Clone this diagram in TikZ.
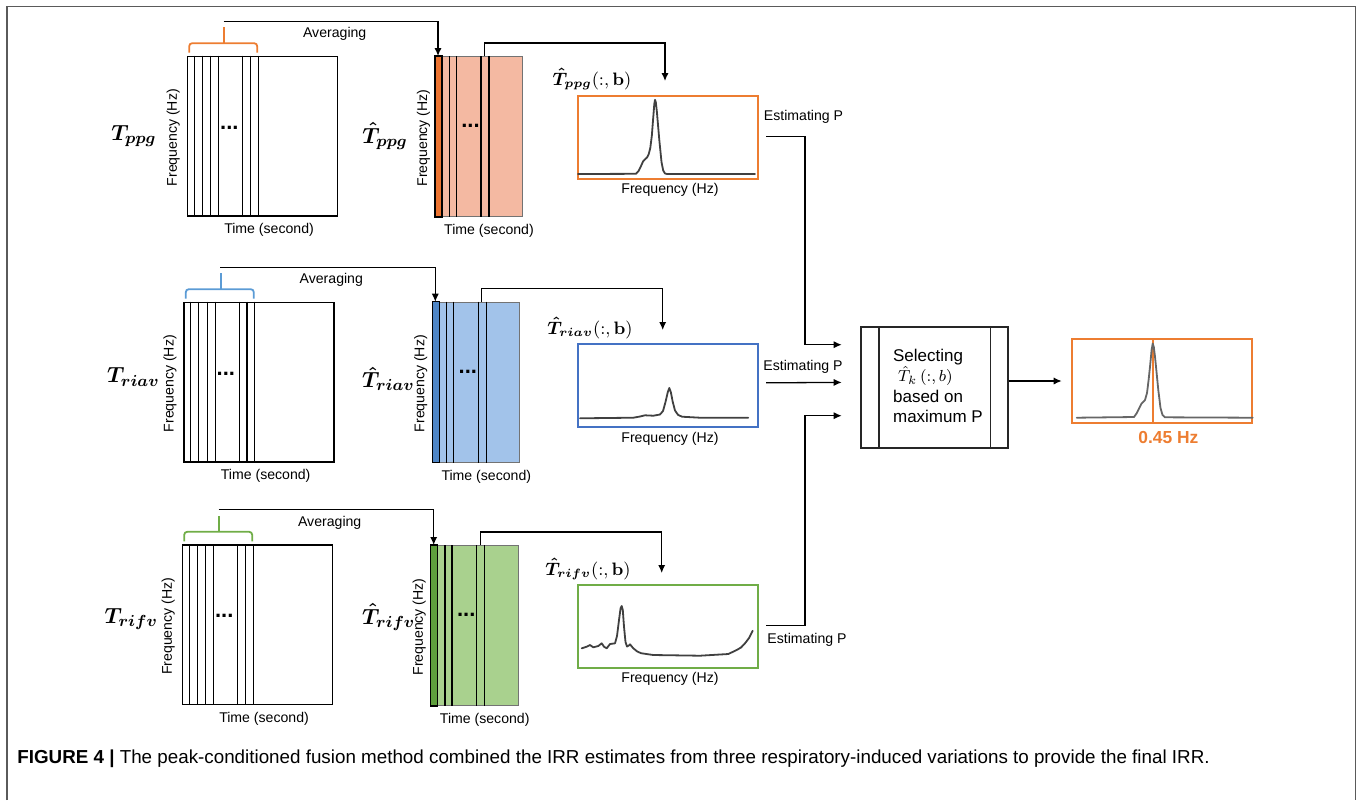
\documentclass[tikz,border=0pt]{standalone}
\usepackage{amsmath}
\usepackage[no-math]{fontspec}
\setmainfont{Liberation Sans}
\usetikzlibrary{arrows.meta,calc}
\definecolor{ppgA}{HTML}{ED7D31}
\definecolor{ppgL}{HTML}{F4B9A2}
\definecolor{ppgD}{HTML}{EB7330}
\definecolor{riaA}{HTML}{5B9BD5}
\definecolor{riaB}{HTML}{4472C4}
\definecolor{riaL}{HTML}{A2C3EA}
\definecolor{riaD}{HTML}{4F86C6}
\definecolor{rifA}{HTML}{70AD47}
\definecolor{rifL}{HTML}{A9D18E}
\definecolor{rifD}{HTML}{5E9E3C}
\definecolor{framec}{HTML}{5A5A5A}
\definecolor{curvec}{HTML}{404040}

\newcommand\mkrow[8]{%
 \node[matbox] (m#1) at (#2,#3) {};
 \foreach \dd in {7.5,15.5,23.8,32,55.8,63.7,71.5}
   \draw[vln] ($(m#1.north west)+(\dd,0)$) -- ($(m#1.south west)+(\dd,0)$);
 \node[hatbox,fill=#6] (h#1) at (#4,#5) {};
 \draw[fill=#7,line width=0.6pt] (h#1.north west) rectangle ($(h#1.south west)+(7,0)$);
 \foreach \dd in {14.2,21.3,46,54}
   \draw[vln] ($(h#1.north west)+(\dd,0)$) -- ($(h#1.south west)+(\dd,0)$);
 \node[dots] (md#1) at ($(m#1.north west)+(42.6,72)$) {...};
 \node[dots] (hd#1) at ($(h#1.north west)+(35.5,70)$) {...};
 \draw[brace,#8] ($(m#1.north west)+(2.5,-3)$) -- ($(m#1.north west)+(2.5,-12.5)$) -- ($(m#1.north west)+(70.5,-12.5)$) -- ($(m#1.north west)+(70.5,-3)$);
 \draw[brace,#8] ($(m#1.north west)+(37.5,-12.5)$) -- ($(m#1.north west)+(37.5,-28.5)$);
 \coordinate (a#1) at ($(m#1.north west)+(37,-34.5)$);
 \draw[arr] (a#1) -| ($(h#1.north west)+(3,0)$);
 \node[lab] (av#1) at ($(m#1.north west)+(148,-21.5)$) {Averaging};
 \node[lab,rotate=90] (mf#1) at ($(m#1.west)+(-13.4,1.5)$) {Frequency (Hz)};
 \node[lab,rotate=90] (hf#1) at ($(h#1.west)+(-11.6,1.5)$) {Frequency (Hz)};
 \node[lab] (mt#1) at ($(m#1.south)+(6.6,13.5)$) {Time (second)};
 \node[lab] (ht#1) at ($(h#1.south west)+(54,14)$) {Time (second)};
 \draw[arr] ($(h#1.north west)+(49.5,0)$) -- ++(0,-13) -| (tip#1);
}

\begin{document}
\begin{tikzpicture}[x=0.5pt,y=-0.5pt,
  matbox/.style={draw=black,line width=0.75pt,minimum width=75pt,minimum height=79.75pt,inner sep=0,anchor=north west},
  hatbox/.style={draw=black!55,line width=0.5pt,minimum width=43.5pt,minimum height=80pt,inner sep=0,anchor=north west},
  plotbox/.style={line width=1pt,minimum width=90pt,minimum height=41.5pt,inner sep=0,anchor=north west},
  vln/.style={line width=0.6pt,black},
  brace/.style={line width=0.9pt,rounded corners=1.5pt},
  lab/.style={font=\fontsize{7.05}{8}\selectfont,inner sep=0},
  dots/.style={font=\fontsize{11}{11}\selectfont\bfseries,inner sep=0},
  conn/.style={line width=0.65pt,black},
  arr/.style={conn,-{Latex[length=4pt,width=3.6pt]}},
  curve/.style={line width=0.9pt,draw=curvec,line join=round,line cap=round},
  mlab/.style={font=\fontsize{11}{12}\selectfont,inner sep=0},
  hlab/.style={font=\fontsize{9}{10}\selectfont,inner sep=0}]
\useasboundingbox (0,0) rectangle (1360,800);
% frame
\draw[framec,line width=0.8pt] (7,800) -- (7,6.4) -- (1355.5,6.4) -- (1355.5,800);

\coordinate (tip1) at (665,81);
\coordinate (tip2) at (662.7,330);
\coordinate (tip3) at (661.7,573);
\mkrow{1}{186.7}{55.7}{435}{56}{ppgL}{ppgD}{ppgA}
\mkrow{2}{183.3}{301.7}{432.3}{301.7}{riaL}{riaD}{riaA}
\mkrow{3}{181.7}{544.3}{430.7}{545}{rifL}{rifD}{rifA}

% matrix labels
\node[mlab,anchor=east] (L1) at (157,136) {$\boldsymbol{T_{ppg}}$};
\node[mlab,anchor=east] (L2) at (160,377) {$\boldsymbol{T_{riav}}$};
\node[mlab,anchor=east] (L3) at (158.3,619) {$\boldsymbol{T_{rifv}}$};
\node[mlab,anchor=west] (H1) at (362,136) {$\boldsymbol{\hat{T}_{ppg}}$};
\node[mlab,anchor=west] (H2) at (361.7,379) {$\boldsymbol{\hat{T}_{riav}}$};
\node[mlab,anchor=west] (H3) at (361.7,617) {$\boldsymbol{\hat{T}_{rifv}}$};

% column labels
\node[hlab] (C1) at (592,79) {$\boldsymbol{\hat{T}_{ppg}}\mathbf{(:,b)}$};
\node[hlab] (C2) at (590,328) {$\boldsymbol{\hat{T}_{riav}}\mathbf{(:,b)}$};
\node[hlab] (C3) at (588,569) {$\boldsymbol{\hat{T}_{rifv}}\mathbf{(:,b)}$};

% plot boxes
\node[plotbox,draw=ppgA] (p1) at (577,95) {};
\node[plotbox,draw=riaB] (p2) at (577,343.3) {};
\node[plotbox,draw=rifA] (p3) at (577,584) {};
\node[lab] (f1) at (670,190) {Frequency (Hz)};
\node[lab] (f2) at (670,439.3) {Frequency (Hz)};
\node[lab] (f3) at (670,679.3) {Frequency (Hz)};

\draw[curve] (578,174) -- (636,173.8) -- (638.5,171) -- (640.7,166.7) -- (643,161.5) -- (645,159.3) -- (647,157.5) -- (648.6,154.5) -- (650.3,148) -- (651.8,136) -- (653.3,116.7) -- (654.3,104) -- (655,99.8) -- (655.8,102) -- (656.9,112) -- (659.3,140) -- (661.5,162) -- (663.2,170.5) -- (665,173.5) -- (667,174) -- (755,174);
\draw[curve] (580,418.3) -- (633.3,417.7) -- (640,416.5) -- (645,415.3) -- (653.3,415.7) -- (660,414.5) -- (663,411) -- (665.5,402) -- (667.8,392) -- (669.3,388) -- (670.8,392) -- (672.7,401.7) -- (675,410.5) -- (678,414.8) -- (682,416.7) -- (700,417.7) -- (748.3,417.7);
\draw[curve] (581.7,648.3) -- (586.7,646.7) -- (590,645) -- (593.3,647.3) -- (598.3,646) -- (601.7,643.3) -- (604,646.7) -- (606.7,648.3) -- (610,644) -- (615,643.3) -- (617,636) -- (619,620) -- (620.6,608) -- (621.7,606) -- (622.8,610) -- (624,626.7) -- (625.5,642) -- (627,646.5) -- (628.8,645.5) -- (630,644.3) -- (633.3,648.3) -- (637,651.3) -- (641,653.2) -- (653.3,655) -- (700,655.7) -- (728.3,654) -- (736.7,650) -- (741,647.5) -- (745,643.3) -- (749,638) -- (752.7,630.7);

% estimating P
\node[lab] (e1) at (803.5,116.7) {Estimating P};
\node[lab] (e2) at (803,366.7) {Estimating P};
\node[lab] (e3) at (807,640) {Estimating P};

% selecting box
\node[draw=black!85,line width=0.75pt,minimum width=73.65pt,minimum height=60.65pt,inner sep=0,anchor=north west] (sel) at (860,326) {};
\draw[line width=0.6pt,black!85] ($(sel.north west)+(19,0)$) -- ($(sel.south west)+(19,0)$);
\draw[line width=0.6pt,black!85] ($(sel.north east)+(-18.3,0)$) -- ($(sel.south east)+(-18.3,0)$);
\node[font=\fontsize{8.5}{10.3}\selectfont,align=left,anchor=west,inner sep=0] (seltext) at (892.7,386) {Selecting\\\hspace{2.5pt}$\hat{T}_k\,(:,b)$\\based on\\maximum P};

\draw[arr] ($(p1.east)+(7,-0.8)$) -| ($(sel.west)+(-55,-42.7)$) -- ($(sel.west)+(-18.3,-42.7)$);
\draw[arr] ($(p2.east)+(7,-3)$) -- ($(sel.west)+(-18.3,-5)$);
\draw[arr] ($(p3.east)+(7,-1)$) -| ($(sel.west)+(-55,28.3)$) -- ($(sel.west)+(-18.3,28.3)$);

% final plot
\node[plotbox,draw=ppgA,minimum width=90.15pt,minimum height=41.7pt] (fin) at (1070.7,338.3) {};
\draw[ppgA,line width=0.9pt] ($(fin.north west)+(82.6,0)$) -- ($(fin.south west)+(82.6,0)$);
\draw[curve,draw=black!60] (1076.7,417.7) -- (1134,417) -- (1136.5,413.5) -- (1138.3,410) -- (1141.7,403.3) -- (1145,400) -- (1147,393) -- (1148.6,380) -- (1150,366.7) -- (1151.6,350) -- (1152.7,343.5) -- (1153.8,347) -- (1155,356.7) -- (1158.3,390) -- (1160.5,408) -- (1162.5,415) -- (1165,417.3) -- (1252.7,417.7);
\node[font=\fontsize{8.7}{10}\selectfont\bfseries,text=ppgA,inner sep=0] (hz) at (1168.3,437.3) {0.45 Hz};
\draw[arr] (sel.east |- fin.west) -- ($(fin.west)+(-9,0)$);

% caption
\node[anchor=west,font=\fontsize{9.4}{11}\selectfont,inner sep=0] (cap) at (17,759) {\textbf{FIGURE 4 |} The peak-conditioned fusion method combined the IRR estimates from three respiratory-induced variations to provide the final IRR.};
\end{tikzpicture}
\end{document}
